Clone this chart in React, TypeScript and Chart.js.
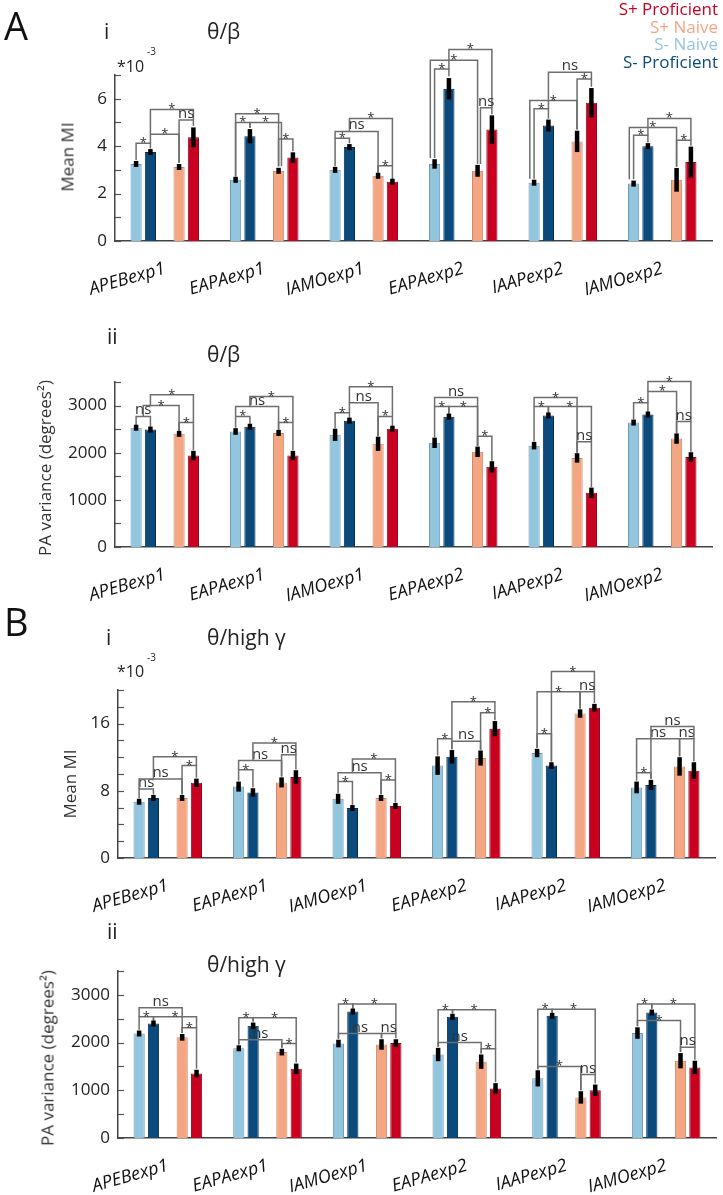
import React, { useEffect, useRef } from 'react';
import { Chart, registerables } from 'chart.js';

Chart.register(...registerables);

const FONT = "'Open Sans', 'Noto Sans', sans-serif";

const categories = ['APEBexp1', 'EAPAexp1', 'IAMOexp1', 'EAPAexp2', 'IAAPexp2', 'IAMOexp2'];
const seriesNames = ['S- Naive', 'S- Proficient', '', 'S+ Naive', 'S+ Proficient'];
const barColors = ['#92c5de', '#0b4a7c', 'rgba(0,0,0,0)', '#f4a582', '#ca0020'];
const barBorders = ['#6f97ae', '#06304f', 'rgba(0,0,0,0)', '#c98a6c', '#8e0b20'];

// Panel A i : theta/beta Mean MI (x10^-3)
const aiSNaive = [3.25, 2.58, 3.0, 3.25, 2.46, 2.42];
const aiSNaiveErr = [0.05, 0.06, 0.12, 0.2, 0.1, 0.12];
const aiSProf = [3.75, 4.42, 3.96, 6.42, 4.87, 4.0];
const aiSProfErr = [0.07, 0.3, 0.12, 0.45, 0.25, 0.1];
const aiPNaive = [3.12, 2.96, 2.75, 2.96, 4.2, 2.58];
const aiPNaiveErr = [0.06, 0.12, 0.08, 0.25, 0.45, 0.5];
const aiPProf = [4.37, 3.52, 2.5, 4.7, 5.83, 3.33];
const aiPProfErr = [0.42, 0.22, 0.04, 0.6, 0.62, 0.65];

// Panel A ii : theta/beta PA variance
const aiiSNaive = [2530, 2450, 2380, 2210, 2150, 2640];
const aiiSNaiveErr = [30, 70, 130, 110, 80, 60];
const aiiSProf = [2490, 2550, 2680, 2765, 2790, 2810];
const aiiSProfErr = [40, 50, 30, 40, 50, 40];
const aiiPNaive = [2400, 2420, 2190, 2020, 1890, 2300];
const aiiPNaiveErr = [40, 50, 150, 110, 100, 110];
const aiiPProf = [1940, 1940, 2510, 1700, 1150, 1910];
const aiiPProfErr = [100, 100, 50, 120, 110, 100];

// Panel B i : theta/high gamma Mean MI (x10^-3)
const biSNaive = [6.7, 8.5, 7.05, 11.0, 12.5, 8.4];
const biSNaiveErr = [0.3, 0.6, 0.6, 1.1, 0.5, 0.7];
const biSProf = [7.15, 7.8, 5.95, 12.05, 11.0, 8.7];
const biSProfErr = [0.3, 0.5, 0.3, 0.8, 0.4, 0.6];
const biPNaive = [7.15, 9.0, 7.15, 11.9, 17.2, 10.9];
const biPNaiveErr = [0.35, 0.6, 0.35, 0.9, 0.5, 1.1];
const biPProf = [8.95, 9.65, 6.2, 15.4, 17.9, 10.4];
const biPProfErr = [0.5, 0.8, 0.3, 0.9, 0.45, 1.0];

// Panel B ii : theta/high gamma PA variance
const biiSNaive = [2190, 1880, 1980, 1750, 1250, 2200];
const biiSNaiveErr = [60, 60, 80, 140, 170, 120];
const biiSProf = [2400, 2350, 2650, 2540, 2560, 2630];
const biiSProfErr = [40, 70, 40, 50, 40, 60];
const biiPNaive = [2110, 1800, 1960, 1600, 850, 1620];
const biiPNaiveErr = [70, 70, 110, 150, 130, 160];
const biiPProf = [1350, 1450, 1990, 1040, 1000, 1480];
const biiPProfErr = [80, 110, 80, 110, 120, 140];

// significance brackets: [category, slotA, slotB, level, endA, endB, label]
// slots: 0 S- Naive, 1 S- Proficient, 3 S+ Naive, 4 S+ Proficient
type Bracket = [number, number, number, number, number, number, string];

const aiBrackets: Bracket[] = [
  [0, 0, 1, 4.12, 3.42, 3.9, '*'],
  [0, 1, 3, 4.5, 4.12, 3.3, '*'],
  [0, 1, 4, 5.55, 4.5, 5.1, '*'],
  [0, 3, 4, 5.1, 3.3, 4.85, 'ns'],
  [1, 0, 3, 5.37, 2.72, 3.15, '*'],
  [1, 0, 1, 5.0, 2.72, 4.78, '*'],
  [1, 1, 3.2, 5.0, 4.78, 3.15, '*'],
  [1, 3, 4, 4.3, 3.15, 3.78, '*'],
  [2, 0, 1, 4.33, 3.15, 4.12, '*'],
  [2, 0, 3, 4.62, 4.33, 2.88, 'ns'],
  [2, 1, 4, 5.17, 4.62, 3.17, '*'],
  [2, 3, 4, 3.17, 2.88, 2.6, '*'],
  [3, 0, 1, 7.25, 3.5, 6.95, '*'],
  [3, -0.3, 3, 7.62, 3.5, 3.25, '*'],
  [3, 1, 4, 8.08, 7.25, 5.62, '*'],
  [3, 3.2, 4, 5.62, 3.25, 5.35, 'ns'],
  [4, 0, 1, 5.58, 2.62, 5.15, '*'],
  [4, -0.3, 3, 5.92, 2.62, 4.7, '*'],
  [4, 1, 4, 7.12, 5.58, 6.83, 'ns'],
  [4, 3, 4, 6.83, 4.7, 6.5, '*'],
  [5, 0, 1, 4.46, 2.6, 4.15, '*'],
  [5, -0.3, 3, 4.79, 2.6, 3.13, '*'],
  [5, 1, 4, 5.17, 4.46, 4.25, '*'],
  [5, 3, 4, 4.25, 3.13, 4.02, '*'],
];

const aiiBrackets: Bracket[] = [
  [0, 0, 1, 2770, 2570, 2540, 'ns'],
  [0, 0.5, 3, 3000, 2770, 2450, '*'],
  [0, 1, 4, 3230, 3000, 2640, '*'],
  [0, 3, 4, 2640, 2450, 2050, '*'],
  [1, 0, 1, 2770, 2530, 2610, '*'],
  [1, 0, 3, 2980, 2770, 2480, 'ns'],
  [1, 1, 4, 3190, 2980, 2640, '*'],
  [1, 3, 4, 2640, 2480, 2050, '*'],
  [2, 0, 1, 2850, 2520, 2720, '*'],
  [2, 1, 3, 3060, 2850, 2350, 'ns'],
  [2, 1, 4, 3400, 3060, 2770, '*'],
  [2, 3, 4, 2770, 2350, 2570, '*'],
  [3, 0, 1, 2980, 2330, 2810, '*'],
  [3, 1, 3, 2980, 2810, 2140, '*'],
  [3, 0, 3, 3170, 2980, 2140, 'ns'],
  [3, 3, 4, 2350, 2140, 1830, '*'],
  [4, 0, 3, 3170, 2980, 2000, '*'],
  [4, 0, 1, 2980, 2240, 2850, '*'],
  [4, 1, 4, 2980, 2850, 2230, '*'],
  [4, 3, 4, 2230, 2000, 1270, 'ns'],
  [5, 0, 1, 3060, 2710, 2860, '*'],
  [5, 1, 3, 3300, 3060, 2420, '*'],
  [5, 1, 4, 3510, 3300, 2660, '*'],
  [5, 3, 4, 2660, 2420, 2020, 'ns'],
];

const biBrackets: Bracket[] = [
  [0, 0, 1, 8.2, 7.1, 7.55, 'ns'],
  [0, 0, 3, 9.4, 8.2, 7.6, 'ns'],
  [0, 1, 4, 12.06, 9.4, 11.0, '*'],
  [0, 3, 4, 11.0, 7.6, 9.55, '*'],
  [1, 0, 1, 10.5, 9.2, 8.4, '*'],
  [1, 0, 3, 11.6, 10.5, 9.7, 'ns'],
  [1, 1, 4, 13.7, 11.6, 12.3, '*'],
  [1, 3, 4, 12.3, 9.7, 10.55, 'ns'],
  [2, 0, 1, 9.1, 7.75, 6.35, '*'],
  [2, 0, 3, 10.15, 9.1, 7.6, 'ns'],
  [2, 1, 4, 11.8, 10.15, 9.3, '*'],
  [2, 3, 4, 9.3, 7.6, 6.6, '*'],
  [3, 0, 1, 14.2, 12.2, 12.95, '*'],
  [3, 1, 3, 13.9, 12.95, 12.9, 'ns'],
  [3, 1, 4, 18.6, 14.2, 17.3, '*'],
  [3, 3, 4, 17.3, 12.9, 16.4, '*'],
  [4, 0, 1, 14.8, 13.1, 11.5, '*'],
  [4, 0, 3, 19.8, 13.1, 17.8, '*'],
  [4, 1, 4, 22.2, 11.5, 19.8, '*'],
  [4, 3, 4, 19.8, 17.8, 18.45, 'ns'],
  [5, 0, 1, 10.15, 9.2, 9.4, '*'],
  [5, 0, 3, 14.2, 10.15, 12.1, 'ns'],
  [5, 3, 4, 14.2, 12.1, 11.5, 'ns'],
  [5, 1, 4, 15.65, 9.4, 14.2, 'ns'],
];

const biiBrackets: Bracket[] = [
  [0, 0, 1, 2540, 2270, 2460, '*'],
  [0, 1, 4, 2540, 2460, 2310, '*'],
  [0, 0, 3, 2730, 2540, 2200, 'ns'],
  [0, 3, 4, 2310, 2200, 1450, '*'],
  [1, 0, 1, 2520, 1960, 2440, '*'],
  [1, 1, 4, 2520, 2440, 1980, '*'],
  [1, 0, 3, 2060, 1960, 1890, 'ns'],
  [1, 3, 4, 1980, 1890, 1580, '*'],
  [2, 0, 1, 2810, 2080, 2710, '*'],
  [2, 1, 4, 2810, 2710, 2190, '*'],
  [2, 0, 3, 2190, 2080, 2090, 'ns'],
  [2, 3, 4, 2190, 2090, 2090, 'ns'],
  [3, 0, 1, 2690, 1910, 2610, '*'],
  [3, 1, 4, 2690, 2610, 1870, '*'],
  [3, 0, 3, 2000, 1910, 1770, 'ns'],
  [3, 3, 4, 1870, 1770, 1170, '*'],
  [4, 0, 1, 2700, 1440, 2620, '*'],
  [4, 1, 4, 2700, 2620, 1330, '*'],
  [4, 0, 3, 1500, 1440, 1000, '*'],
  [4, 3, 4, 1330, 1000, 1140, 'ns'],
  [5, 0, 1, 2810, 2340, 2710, '*'],
  [5, 1, 4, 2810, 2710, 1900, '*'],
  [5, 0, 3, 2460, 2340, 1800, '*'],
  [5, 3, 4, 1900, 1800, 1640, 'ns'],
];

interface Panel {
  top: number;
  height: number;
  padTop: number;
  bottomPx: number;
  yW: number;
  padRight: number;
  yMax: number;
  yStep: number;
  labelEvery: number;
  values: (number | null)[][];
  errs: number[][];
  brackets: Bracket[];
}

const nulls = categories.map(() => null);

const panels: Panel[] = [
  {
    top: 0, height: 310, padTop: 75, bottomPx: 241, yW: 115, padRight: 11,
    yMax: 7, yStep: 1, labelEvery: 2,
    values: [aiSNaive, aiSProf, nulls, aiPNaive, aiPProf],
    errs: [aiSNaiveErr, aiSProfErr, [], aiPNaiveErr, aiPProfErr],
    brackets: aiBrackets,
  },
  {
    top: 300, height: 310, padTop: 82, bottomPx: 547, yW: 115, padRight: 11,
    yMax: 3500, yStep: 500, labelEvery: 1000,
    values: [aiiSNaive, aiiSProf, nulls, aiiPNaive, aiiPProf],
    errs: [aiiSNaiveErr, aiiSProfErr, [], aiiPNaiveErr, aiiPProfErr],
    brackets: aiiBrackets,
  },
  {
    top: 600, height: 320, padTop: 90, bottomPx: 858, yW: 118, padRight: 8,
    yMax: 20, yStep: 2, labelEvery: 8,
    values: [biSNaive, biSProf, nulls, biPNaive, biPProf],
    errs: [biSNaiveErr, biSProfErr, [], biPNaiveErr, biPProfErr],
    brackets: biBrackets,
  },
  {
    top: 900, height: 295, padTop: 71, bottomPx: 1138, yW: 118, padRight: 7,
    yMax: 3500, yStep: 500, labelEvery: 1000,
    values: [biiSNaive, biiSProf, nulls, biiPNaive, biiPProf],
    errs: [biiSNaiveErr, biiSProfErr, [], biiPNaiveErr, biiPProfErr],
    brackets: biiBrackets,
  },
];

const overlayPlugin = {
  id: 'overlay',
  afterDraw(chart: any, _args: any, opts: any) {
    const p: Panel = opts.panel;
    if (!p) return;
    const { ctx, chartArea } = chart;
    const y = chart.scales.y;
    ctx.save();
    // inward y ticks
    ctx.strokeStyle = '#555';
    ctx.lineWidth = 1.2;
    y.ticks.forEach((t: any) => {
      const py = Math.round(y.getPixelForValue(t.value)) + 0.5;
      ctx.beginPath();
      ctx.moveTo(chartArea.left, py);
      ctx.lineTo(chartArea.left + 6, py);
      ctx.stroke();
    });
    const m0 = chart.getDatasetMeta(0);
    const m1 = chart.getDatasetMeta(1);
    const slotX = (g: number, s: number) => {
      const x0 = m0.data[g].x;
      const d = m1.data[g].x - x0;
      return x0 + s * d;
    };
    // brackets
    ctx.strokeStyle = '#6e6e6e';
    ctx.lineWidth = 1.5;
    ctx.fillStyle = '#333';
    ctx.textAlign = 'center';
    p.brackets.forEach(([g, a, b, level, ea, eb, label]) => {
      const xa = slotX(g, a);
      const xb = slotX(g, b);
      const ly = y.getPixelForValue(level);
      ctx.beginPath();
      ctx.moveTo(xa, y.getPixelForValue(ea));
      ctx.lineTo(xa, ly);
      ctx.lineTo(xb, ly);
      ctx.lineTo(xb, y.getPixelForValue(eb));
      ctx.stroke();
      const mx = (xa + xb) / 2;
      if (label === '*') {
        ctx.font = `13px ${FONT}`;
        ctx.textBaseline = 'alphabetic';
        ctx.fillText('*', mx, ly + 4);
      } else {
        ctx.font = `15px ${FONT}`;
        ctx.textBaseline = 'alphabetic';
        ctx.fillText(label, mx, ly - 2);
      }
    });
    // error bars
    ctx.strokeStyle = '#000';
    ctx.lineWidth = 4.5;
    ctx.lineCap = 'butt';
    [0, 1, 3, 4].forEach((di) => {
      const meta = chart.getDatasetMeta(di);
      p.values[di].forEach((v, g) => {
        if (v == null) return;
        const e = p.errs[di][g];
        let y1 = y.getPixelForValue(v + e);
        let y2 = y.getPixelForValue(v - e);
        if (y2 - y1 < 6) {
          const c = (y1 + y2) / 2;
          y1 = c - 3;
          y2 = c + 3;
        }
        const x = meta.data[g].x;
        ctx.beginPath();
        ctx.moveTo(x, y1);
        ctx.lineTo(x, y2);
        ctx.stroke();
      });
    });
    ctx.restore();
  },
};

function PanelChart({ panel }: { panel: Panel }) {
  const ref = useRef<HTMLCanvasElement>(null);
  useEffect(() => {
    const canvas = ref.current;
    if (!canvas) return;
    const xH = panel.top + panel.height - panel.bottomPx;
    const chart = new Chart(canvas, {
      type: 'bar',
      data: {
        labels: categories,
        datasets: panel.values.map((vals, i) => ({
          label: seriesNames[i],
          data: vals as any,
          backgroundColor: barColors[i],
          borderColor: barBorders[i],
          borderWidth: 1,
          categoryPercentage: 0.72,
          barPercentage: 0.78,
        })),
      },
      options: {
        responsive: false,
        animation: false,
        devicePixelRatio: 1,
        layout: { padding: { top: panel.padTop, right: panel.padRight, left: 0, bottom: 0 } },
        plugins: {
          legend: { display: false },
          tooltip: { enabled: false },
          overlay: { panel },
        } as any,
        scales: {
          x: {
            type: 'category',
            offset: true,
            grid: { display: false, drawTicks: false },
            border: { display: true, color: '#444', width: 1.5 },
            ticks: {
              font: { family: FONT, size: 18, style: 'italic' },
              color: '#111',
              minRotation: 16,
              maxRotation: 16,
              autoSkip: false,
              padding: 17,
            },
            afterFit: (s: any) => { s.height = xH; },
          },
          y: {
            min: 0,
            max: panel.yMax,
            grid: { display: false, drawTicks: false },
            border: { display: true, color: '#444', width: 1.5 },
            ticks: {
              stepSize: panel.yStep,
              autoSkip: false,
              font: { family: FONT, size: 17 },
              color: '#222',
              padding: 8,
              callback: (v: any) => (Number(v) % panel.labelEvery === 0 ? String(v) : ''),
            },
            afterFit: (s: any) => { s.width = panel.yW; },
          },
        },
      },
      plugins: [overlayPlugin],
    });
    return () => chart.destroy();
  }, [panel]);
  return (
    <canvas
      ref={ref}
      width={723}
      height={panel.height}
      style={{ position: 'absolute', left: 0, top: panel.top, width: 723, height: panel.height }}
    />
  );
}

function Txt(props: { x?: number; right?: number; base: number; size: number; color?: string; children: React.ReactNode }) {
  const { x, right, base, size, color = '#222', children } = props;
  const style: React.CSSProperties = {
    position: 'absolute',
    top: base - 0.888 * size,
    fontSize: size,
    lineHeight: 1,
    fontFamily: FONT,
    color,
    whiteSpace: 'nowrap',
  };
  if (right !== undefined) style.right = right; else style.left = x;
  return <div style={style}>{children}</div>;
}

function VTxt(props: { cx: number; cy: number; size: number; children: React.ReactNode }) {
  return (
    <div
      style={{
        position: 'absolute',
        left: props.cx,
        top: props.cy,
        transform: 'translate(-50%, -50%) rotate(-90deg)',
        fontSize: props.size,
        lineHeight: 1,
        fontFamily: FONT,
        color: '#333',
        whiteSpace: 'nowrap',
      }}
    >
      {props.children}
    </div>
  );
}

export default function App() {
  return (
    <div style={{ position: 'absolute', left: 0, top: 0, width: 723, height: 1195, background: '#fff', overflow: 'hidden' }}>
      {panels.map((p, i) => (
        <PanelChart key={i} panel={p} />
      ))}
      {/* Panel letters */}
      <Txt x={4} base={40} size={38} color="#111">A</Txt>
      <Txt x={4} base={636} size={38} color="#111">B</Txt>

      {/* Legend */}
      <Txt right={5} base={15.5} size={17} color="#ca0020">S+ Proficient</Txt>
      <Txt right={5} base={33} size={17} color="#f4a582">S+ Naive</Txt>
      <Txt right={5} base={50.5} size={17} color="#92c5de">S- Naive</Txt>
      <Txt right={5} base={68} size={17} color="#0b4a7c">S- Proficient</Txt>

      {/* A i */}
      <Txt x={104} base={40} size={21}>i</Txt>
      <Txt x={207} base={40} size={21}>θ/β</Txt>
      <Txt x={117} base={72} size={16}>*10</Txt>
      <Txt x={147} base={55} size={10}>-3</Txt>
      <VTxt cx={67} cy={157} size={17}>Mean MI</VTxt>

      {/* A ii */}
      <Txt x={107} base={345} size={21}>ii</Txt>
      <Txt x={207} base={363} size={21}>θ/β</Txt>
      <VTxt cx={44} cy={468} size={17}>PA variance (degrees²)</VTxt>

      {/* B i */}
      <Txt x={106} base={646} size={21}>i</Txt>
      <Txt x={207} base={646} size={21}>θ/high γ</Txt>
      <Txt x={117} base={677} size={16}>*10</Txt>
      <Txt x={147} base={661} size={10}>-3</Txt>
      <VTxt cx={69} cy={784} size={17}>Mean MI</VTxt>

      {/* B ii */}
      <Txt x={107} base={940} size={21}>ii</Txt>
      <Txt x={207} base={973} size={21}>θ/high γ</Txt>
      <VTxt cx={47} cy={1058} size={17}>PA variance (degrees²)</VTxt>
    </div>
  );
}
